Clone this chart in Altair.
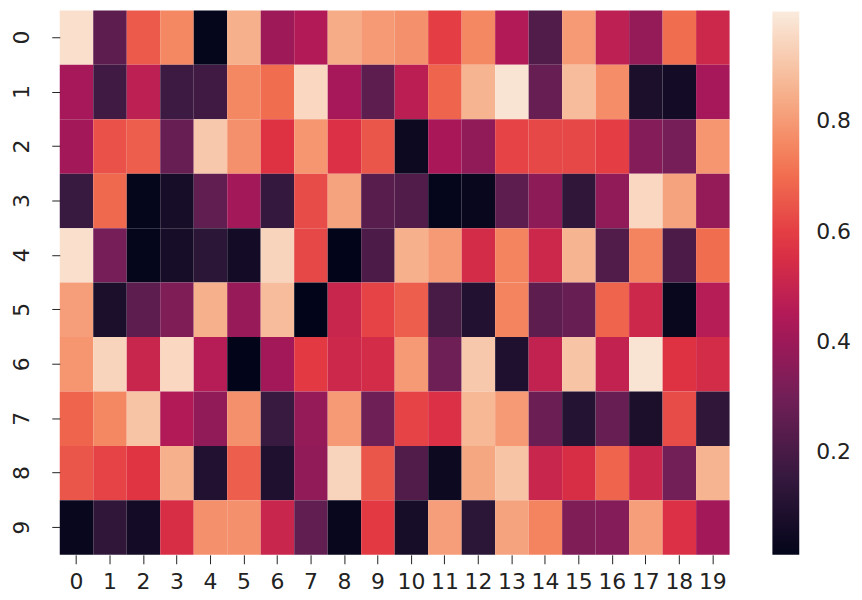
import altair as alt
import pandas as pd

rows = list(range(10))
cols = list(range(20))

row0 = [0.97, 0.25, 0.66, 0.76, 0.02, 0.85, 0.40, 0.45, 0.84, 0.80, 0.78, 0.60, 0.76, 0.45, 0.22, 0.80, 0.48, 0.38, 0.70, 0.52]
row1 = [0.42, 0.18, 0.48, 0.17, 0.18, 0.76, 0.70, 0.95, 0.42, 0.25, 0.47, 0.68, 0.86, 0.98, 0.27, 0.88, 0.77, 0.08, 0.06, 0.42]
row2 = [0.41, 0.64, 0.67, 0.27, 0.91, 0.78, 0.57, 0.79, 0.56, 0.65, 0.04, 0.43, 0.37, 0.61, 0.62, 0.62, 0.60, 0.34, 0.31, 0.79]
row3 = [0.16, 0.69, 0.02, 0.07, 0.26, 0.41, 0.15, 0.63, 0.82, 0.24, 0.22, 0.02, 0.03, 0.25, 0.36, 0.14, 0.37, 0.95, 0.82, 0.38]
row4 = [0.97, 0.31, 0.02, 0.07, 0.13, 0.06, 0.94, 0.62, 0.01, 0.21, 0.85, 0.80, 0.54, 0.75, 0.52, 0.86, 0.22, 0.75, 0.21, 0.70]
row5 = [0.81, 0.08, 0.25, 0.33, 0.85, 0.39, 0.88, 0.01, 0.51, 0.61, 0.67, 0.20, 0.10, 0.75, 0.25, 0.27, 0.68, 0.52, 0.03, 0.46]
row6 = [0.79, 0.94, 0.51, 0.95, 0.46, 0.01, 0.41, 0.59, 0.52, 0.54, 0.80, 0.29, 0.91, 0.09, 0.49, 0.90, 0.49, 0.98, 0.57, 0.54]
row7 = [0.68, 0.76, 0.90, 0.45, 0.37, 0.78, 0.16, 0.38, 0.80, 0.29, 0.61, 0.56, 0.87, 0.80, 0.28, 0.11, 0.27, 0.08, 0.63, 0.14]
row8 = [0.65, 0.61, 0.58, 0.85, 0.10, 0.67, 0.09, 0.37, 0.94, 0.65, 0.22, 0.04, 0.83, 0.90, 0.51, 0.55, 0.68, 0.51, 0.30, 0.86]
row9 = [0.03, 0.14, 0.06, 0.55, 0.78, 0.78, 0.51, 0.26, 0.03, 0.59, 0.07, 0.81, 0.13, 0.82, 0.75, 0.33, 0.34, 0.81, 0.56, 0.41]

grid = [row0, row1, row2, row3, row4, row5, row6, row7, row8, row9]

colorbar_ticks = [0.2, 0.4, 0.6, 0.8]

# seaborn "rocket" colormap stops
rocket = ["#03051a", "#35193e", "#701f57", "#ad1759", "#e13342", "#f37651", "#f6b48f", "#faebdd"]

records = []
for r in rows:
    for c in cols:
        records.append({"row": r, "col": c, "value": grid[r][c]})
df = pd.DataFrame(records)

FONT = "DejaVu Sans"
TXT = "#222222"

chart = (
    alt.Chart(df)
    .mark_rect(strokeWidth=0)
    .encode(
        x=alt.X(
            "col:O",
            sort=cols,
            scale=alt.Scale(paddingInner=0, paddingOuter=0),
            axis=alt.Axis(
                title=None, labelAngle=0, domain=False, tickSize=9, tickColor=TXT,
                labelFontSize=22, labelFont=FONT, labelColor=TXT, labelPadding=8,
            ),
        ),
        y=alt.Y(
            "row:O",
            sort=rows,
            scale=alt.Scale(paddingInner=0, paddingOuter=0),
            axis=alt.Axis(
                title=None, labelAngle=-90, domain=False, tickSize=8, tickColor=TXT,
                labelFontSize=22, labelFont=FONT, labelColor=TXT, labelPadding=18,
                labelAlign="center", labelBaseline="bottom",
            ),
        ),
        color=alt.Color(
            "value:Q",
            scale=alt.Scale(domain=[0.013, 1.0], range=rocket, interpolate="rgb", nice=False, zero=False),
            legend=alt.Legend(
                title=None, orient="none", legendX=716, legendY=1, direction="vertical",
                gradientLength=546, gradientThickness=27, gradientStrokeWidth=0,
                values=colorbar_ticks, format=".1f", labelFontSize=22, labelFont=FONT,
                labelColor=TXT, labelOffset=17,
            ),
        ),
    )
    .properties(
        width=673,
        height=547,
        autosize=alt.AutoSizeParams(type="none"),
        padding={"left": 52, "top": 1, "right": 125, "bottom": 44},
    )
    .configure_view(stroke=None)
)

chart.save("out.html", embed_options={"renderer": "svg", "actions": False})
